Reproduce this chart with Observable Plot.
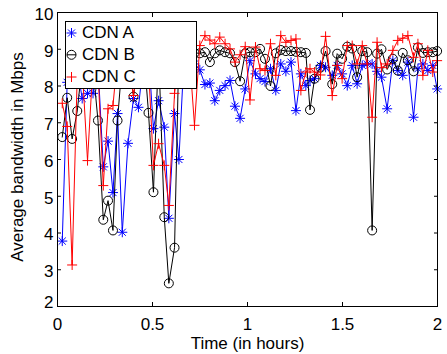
<!DOCTYPE html>
<html><head><meta charset="utf-8">
<script src="https://cdn.jsdelivr.net/npm/d3@7"></script>
<script src="https://cdn.jsdelivr.net/npm/@observablehq/plot@0.6"></script>
<style>
body{margin:0;background:#fff;}
#chart svg{display:block;}
</style></head><body><div id="chart"></div>
<script>
const times = [0.025, 0.051, 0.077, 0.104, 0.130, 0.158, 0.187, 0.213, 0.241, 0.266,
  0.292, 0.316, 0.341, 0.371, 0.400, 0.426, 0.453, 0.479, 0.505, 0.532,
  0.562, 0.586, 0.616, 0.639, 0.668, 0.695, 0.721, 0.749, 0.776, 0.802,
  0.828, 0.854, 0.882, 0.908, 0.934, 0.961, 0.988, 1.013, 1.042, 1.066,
  1.092, 1.121, 1.149, 1.175, 1.202, 1.229, 1.255, 1.281, 1.307, 1.329,
  1.353, 1.384, 1.411, 1.446, 1.472, 1.498, 1.525, 1.551, 1.577, 1.604,
  1.630, 1.656, 1.682, 1.705, 1.735, 1.765, 1.791, 1.817, 1.844, 1.874,
  1.897, 1.923, 1.949, 1.975, 1.998];

const cdnA = [3.78, 8.1, 8.7, 8.5, 7.66, 7.8, 7.8, 8.6, 5.8, 6.5,
  5.1, 7.25, 4.02, 6.44, 7.66, 7.42, 8.7, 8.9, 6.84, 7.6,
  6.88, 4.4, 7.25, 6.0, 9.0, 8.8, 8.6, 8.44, 8.04, 8.08,
  7.6, 7.88, 8.01, 8.15, 7.45, 7.12, 7.92, 8.69, 8.33, 8.2,
  8.12, 8.47, 7.88, 8.6, 8.4, 8.65, 7.33, 8.33, 8.01, 8.15,
  8.2, 8.56, 8.51, 8.29, 8.56, 8.33, 8.01, 8.56, 8.06, 8.56,
  8.6, 8.6, 8.4, 8.24, 7.38, 8.69, 8.42, 8.29, 8.65, 7.15,
  8.47, 8.6, 8.42, 8.56, 7.92];

const cdnB = [6.61, 7.68, 6.56, 7.32, 8.6, 8.8, 8.5, 7.06, 4.36, 4.88,
  4.07, 7.06, 8.7, 8.9, 7.71, 8.8, 9.0, 7.27, 5.11, 9.0,
  4.43, 2.63, 3.6, 9.0, 8.9, 9.0, 8.9, 8.89, 8.92, 8.65,
  8.89, 8.97, 8.92, 8.89, 8.65, 8.13, 8.89, 8.92, 8.92, 9.01,
  8.74, 8.0, 8.89, 8.98, 8.95, 8.95, 8.93, 8.92, 8.9, 7.35,
  8.2, 8.5, 8.95, 8.05, 8.88, 8.74, 9.07, 9.02, 8.24, 8.95,
  8.92, 4.07, 8.88, 9.0, 8.45, 8.74, 8.42, 8.9, 8.7, 8.4,
  9.05, 8.9, 8.92, 8.92, 8.95];

const cdnC = [7.53, 6.9, 3.13, 8.3, 8.5, 5.97, 8.6, 8.4, 5.29, 7.38,
  7.47, 8.8, 9.0, 8.6, 7.74, 8.6, 8.9, 8.5, 5.84, 6.43,
  5.84, 4.75, 7.8, 8.7, 9.0, 8.8, 6.93, 9.1, 9.37, 9.25,
  9.15, 9.33, 9.15, 9.01, 8.65, 8.85, 9.07, 7.62, 9.06, 8.47,
  8.42, 9.15, 8.29, 9.37, 9.19, 9.24, 9.28, 7.88, 8.38, 8.47,
  8.38, 8.3, 9.35, 7.74, 8.56, 8.2, 9.1, 9.1, 8.6, 9.1,
  8.6, 7.15, 9.19, 8.5, 8.6, 8.97, 9.24, 9.3, 9.37, 8.78,
  9.15, 8.29, 8.97, 8.38, 8.69];

const seriesNames = ["CDN A", "CDN B", "CDN C"];
const seriesColors = ["#0000ff", "#000000", "#ff0000"];
const xTicks = [0, 0.5, 1, 1.5, 2];
const yTicks = [2, 3, 4, 5, 6, 7, 8, 9, 10];
const xLabel = "Time (in hours)";
const yLabel = "Average bandwidth in Mbps";

const rows = (vals) => times.map((t, i) => ({t, v: vals[i]}));
const dataA = rows(cdnA), dataB = rows(cdnB), dataC = rows(cdnC);

const asterisk = {draw(ctx, size) {
  const r = Math.sqrt(size / Math.PI), d = r * Math.SQRT1_2;
  ctx.moveTo(-r, 0); ctx.lineTo(r, 0);
  ctx.moveTo(0, -r); ctx.lineTo(0, r);
  ctx.moveTo(-d, -d); ctx.lineTo(d, d);
  ctx.moveTo(-d, d); ctx.lineTo(d, -d);
}};
const plus = {draw(ctx, size) {
  const r = Math.sqrt(size / Math.PI);
  ctx.moveTo(-r, 0); ctx.lineTo(r, 0);
  ctx.moveTo(0, -r); ctx.lineTo(0, r);
}};
const ring = {draw(ctx, size) {
  const r = Math.sqrt(size / Math.PI);
  ctx.moveTo(r, 0); ctx.arc(0, 0, r, 0, 2 * Math.PI);
}};
const ringLine = {draw(ctx, size) {
  const r = Math.sqrt(size / Math.PI);
  ctx.moveTo(r, 0); ctx.arc(0, 0, r, 0, 2 * Math.PI);
  ctx.moveTo(-r, 0); ctx.lineTo(r, 0);
}};
const symbols = [asterisk, ring, plus];
const legendSymbols = [asterisk, ringLine, plus];
const radii = [5, 4.5, 5];
const datasets = [dataA, dataB, dataC];

const FONT = "17px";
const marks = [];
datasets.forEach((d, k) => {
  marks.push(Plot.line(d, {x: "t", y: "v", stroke: seriesColors[k], strokeWidth: 1}));
  marks.push(Plot.dot(d, {x: "t", y: "v", symbol: symbols[k], r: radii[k], stroke: seriesColors[k], fill: "none", strokeWidth: 1}));
});
marks.push(
  Plot.frame({stroke: "black", strokeWidth: 1}),
  Plot.axisX({ticks: xTicks, anchor: "bottom", tickSize: -4, fill: "none", label: null}),
  Plot.axisX({ticks: xTicks, anchor: "top", tickSize: -4, fill: "none", label: null}),
  Plot.axisY({ticks: yTicks, anchor: "left", tickSize: -4, fill: "none", label: null}),
  Plot.axisY({ticks: yTicks, anchor: "right", tickSize: -4, fill: "none", label: null}),
  Plot.axisX({ticks: xTicks, anchor: "bottom", tickSize: 0, tickPadding: 11, stroke: "none", fontSize: FONT, tickFormat: d => String(d), label: null}),
  Plot.axisY({ticks: yTicks.slice(1), anchor: "left", tickSize: 0, tickPadding: 4, dy: 2, stroke: "none", fontSize: FONT, tickFormat: d => String(d), label: null}),
  Plot.axisY({ticks: yTicks.slice(0, 1), anchor: "left", tickSize: 0, tickPadding: 4, dy: -4, stroke: "none", fontSize: FONT, tickFormat: d => String(d), label: null}),
  Plot.text([xLabel], {text: d => d, frameAnchor: "bottom", dy: 37, textAnchor: "middle", lineAnchor: "middle", fontSize: FONT}),
  Plot.text([yLabel], {text: d => d, frameAnchor: "left", rotate: -90, dx: -40, dy: -2.5, textAnchor: "middle", lineAnchor: "middle", fontSize: FONT}),
  // legend box
  Plot.frame({fill: "white", stroke: "black", strokeWidth: 1, insetLeft: 8, insetTop: 9, insetRight: 241, insetBottom: 218})
);
const legendRows = [20.5, 42.3, 64.5];
seriesNames.forEach((name, k) => {
  marks.push(Plot.dot([name], {frameAnchor: "top-left", dx: 14, dy: legendRows[k], symbol: legendSymbols[k], r: radii[k], stroke: seriesColors[k], fill: "none", strokeWidth: 1}));
  marks.push(Plot.text([name], {text: d => d, frameAnchor: "top-left", dx: 24.5, dy: legendRows[k], textAnchor: "start", lineAnchor: "middle", fontSize: FONT}));
});

const chart = Plot.plot({
  width: 447,
  height: 354,
  marginLeft: 57,
  marginRight: 10,
  marginTop: 12,
  marginBottom: 48,
  x: {domain: [0, 2]},
  y: {domain: [2, 10]},
  style: {fontFamily: "'Liberation Sans', Arial, Helvetica, sans-serif", fontSize: FONT, color: "black", background: "white"},
  marks
});
document.getElementById("chart").appendChild(chart);
</script>
</body></html>
